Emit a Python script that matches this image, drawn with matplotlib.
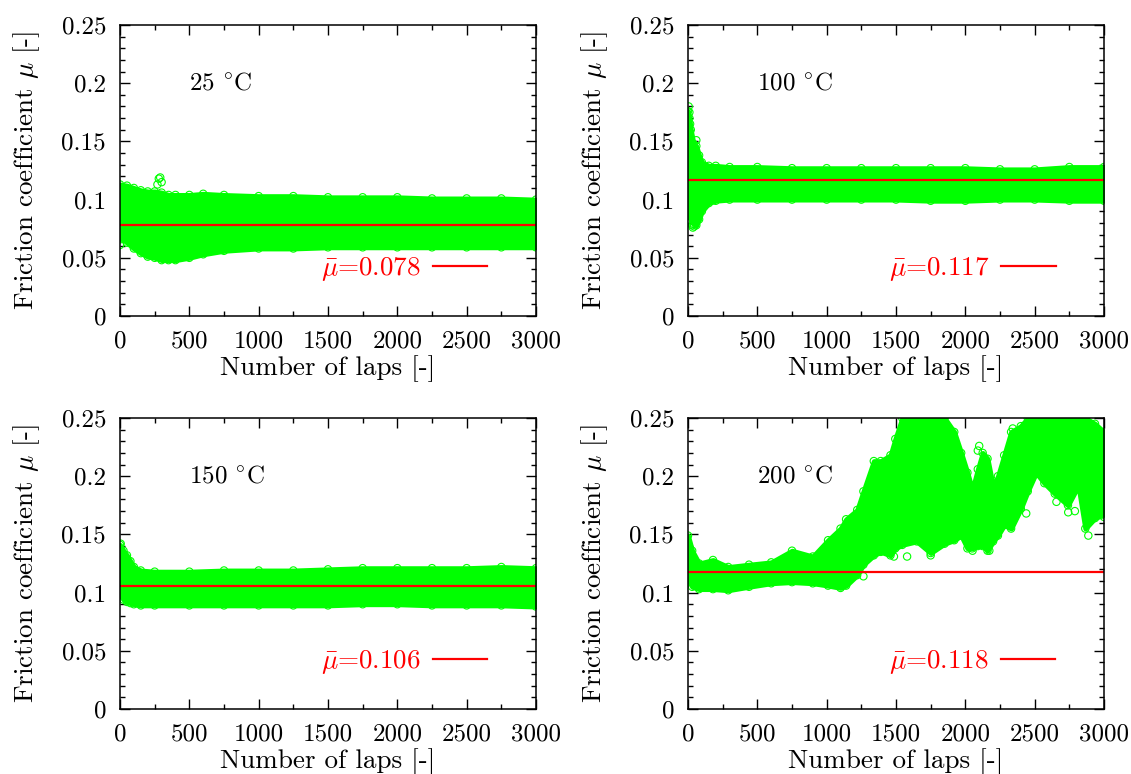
import matplotlib
matplotlib.use("Agg")
import matplotlib.pyplot as plt
from matplotlib.ticker import MultipleLocator, FuncFormatter

plt.rcParams.update({
    "font.family": "serif",
    "font.serif": ["cmr10"],
    "mathtext.fontset": "cm",
    "axes.formatter.use_mathtext": True,
    "font.size": 18,
    "axes.unicode_minus": False,
})

GREEN = "#00ff00"
RED = "#ff0000"

# ---------------- data ----------------
temps = ["25", "100", "150", "200"]
means = [0.078, 0.117, 0.106, 0.118]

laps_25 = [0, 50, 100, 150, 200, 250, 300, 350, 400, 500, 600, 750, 1000,
           1250, 1500, 1750, 2000, 2250, 2500, 2750, 3000]
upper_25 = [0.113, 0.112, 0.110, 0.108, 0.107, 0.107, 0.106, 0.104, 0.104, 0.104,
            0.105, 0.104, 0.103, 0.103, 0.102, 0.102, 0.102, 0.101, 0.101, 0.101, 0.100]
lower_25 = [0.068, 0.063, 0.058, 0.054, 0.051, 0.050, 0.048, 0.048, 0.048, 0.050,
            0.053, 0.056, 0.058, 0.058, 0.059, 0.059, 0.059, 0.059, 0.059, 0.059, 0.059]
out_laps_25 = [0, 5, 270, 280, 290, 300]
out_vals_25 = [0.061, 0.066, 0.113, 0.118, 0.119, 0.115]

laps_100 = [0, 10, 20, 40, 60, 80, 100, 150, 200, 300, 500, 750, 1000, 1250,
            1500, 1750, 2000, 2250, 2500, 2750, 3000]
upper_100 = [0.176, 0.170, 0.160, 0.148, 0.146, 0.138, 0.132, 0.129, 0.129, 0.128,
             0.128, 0.127, 0.127, 0.127, 0.127, 0.127, 0.127, 0.126, 0.126, 0.128, 0.128]
lower_100 = [0.090, 0.086, 0.082, 0.079, 0.078, 0.083, 0.090, 0.097, 0.099, 0.100,
             0.100, 0.100, 0.100, 0.100, 0.100, 0.099, 0.099, 0.100, 0.100, 0.099, 0.099]
out_laps_100 = [5, 10, 15, 30, 60, 2, 35, 45]
out_vals_100 = [0.180, 0.175, 0.165, 0.078, 0.151, 0.087, 0.076, 0.077]

laps_150 = [0, 25, 50, 75, 100, 150, 250, 500, 750, 1000, 1250, 1500, 1750,
            2000, 2250, 2500, 2750, 3000]
upper_150 = [0.141, 0.136, 0.132, 0.127, 0.122, 0.119, 0.118, 0.118, 0.119, 0.119,
             0.119, 0.120, 0.121, 0.121, 0.121, 0.121, 0.122, 0.121]
lower_150 = [0.098, 0.094, 0.092, 0.091, 0.090, 0.089, 0.089, 0.089, 0.089, 0.089,
             0.089, 0.089, 0.090, 0.090, 0.089, 0.089, 0.089, 0.088]
out_laps_150 = [5, 60]
out_vals_150 = [0.142, 0.093]

laps_200 = [0, 30, 80, 180, 290, 440, 600, 750, 900, 1010, 1100, 1140, 1220,
            1265, 1340, 1390, 1460, 1495, 1545, 1650, 1750, 1850, 1920, 1970,
            2015, 2050, 2090, 2125, 2160, 2200, 2235, 2280, 2330, 2400, 2450,
            2510, 2570, 2645, 2740, 2815, 2865, 2935, 3000]
upper_200 = [0.149, 0.136, 0.125, 0.128, 0.122, 0.124, 0.126, 0.136, 0.131, 0.145,
             0.155, 0.163, 0.171, 0.187, 0.213, 0.213, 0.218, 0.232, 0.250, 0.250,
             0.250, 0.250, 0.238, 0.220, 0.203, 0.188, 0.206, 0.220, 0.215, 0.191,
             0.200, 0.218, 0.238, 0.243, 0.250, 0.250, 0.250, 0.250, 0.250, 0.250,
             0.250, 0.245, 0.238]
lower_200 = [0.111, 0.105, 0.103, 0.103, 0.102, 0.105, 0.108, 0.109, 0.108, 0.106,
             0.104, 0.106, 0.115, 0.124, 0.132, 0.135, 0.132, 0.138, 0.141, 0.144,
             0.134, 0.142, 0.145, 0.149, 0.138, 0.138, 0.140, 0.140, 0.136, 0.144,
             0.149, 0.158, 0.155, 0.172, 0.187, 0.203, 0.194, 0.185, 0.175, 0.192,
             0.155, 0.164, 0.167]
out_laps_200 = [1265, 1485, 1580, 1750, 2052, 2090, 2100, 2173, 2342, 2439,
                2512, 2657, 2742, 2790, 2887, 3000]
out_vals_200 = [0.114, 0.131, 0.131, 0.132, 0.136, 0.222, 0.226, 0.136, 0.241,
                0.168, 0.202, 0.178, 0.169, 0.170, 0.149, 0.165]

panels = [
    (laps_25, upper_25, lower_25, out_laps_25, out_vals_25),
    (laps_100, upper_100, lower_100, out_laps_100, out_vals_100),
    (laps_150, upper_150, lower_150, out_laps_150, out_vals_150),
    (laps_200, upper_200, lower_200, out_laps_200, out_vals_200),
]

x_ticks = [0, 500, 1000, 1500, 2000, 2500, 3000]
y_ticks = [0, 0.05, 0.1, 0.15, 0.2, 0.25]

# ---------------- figure ----------------
fig = plt.figure(figsize=(11.31, 7.74), dpi=100)
W, H = 1131.0, 774.0
positions = [
    (120 / W, (H - 316) / H),
    (688 / W, (H - 316) / H),
    (120 / W, (H - 709) / H),
    (688 / W, (H - 709) / H),
]
aw, ah = 416 / W, 291 / H

fmt = FuncFormatter(lambda v, p: "%g" % v)
LABEL_FS = 19.5

for i, (pos, data) in enumerate(zip(positions, panels)):
    laps, up, lo, ox, oy = data
    ax = fig.add_axes([pos[0], pos[1], aw, ah])
    ax.fill_between(laps, lo, up, facecolor=GREEN, edgecolor=GREEN,
                    linewidth=3.5, zorder=2)
    ax.scatter(laps, up, s=28, facecolors="none", edgecolors=GREEN,
               linewidths=0.8, zorder=2)
    ax.scatter(laps, lo, s=28, facecolors="none", edgecolors=GREEN,
               linewidths=0.8, zorder=2)
    ax.scatter(ox, oy, s=28, facecolors="none", edgecolors=GREEN,
               linewidths=0.8, zorder=2)
    ax.plot([laps[0], laps[-1]], [means[i], means[i]], color=RED, lw=1.6,
            zorder=3, label=r"$\bar{\mu}$=%.3f" % means[i])

    ax.set_xlim(0, 3000)
    ax.set_ylim(0, 0.25)
    ax.set_xticks(x_ticks)
    ax.set_yticks(y_ticks)
    ax.xaxis.set_minor_locator(MultipleLocator(250))
    ax.yaxis.set_minor_locator(MultipleLocator(0.01))
    ax.xaxis.set_major_formatter(fmt)
    ax.yaxis.set_major_formatter(fmt)
    ax.tick_params(which="both", direction="in", top=True, right=True,
                   width=1.0)
    ax.tick_params(which="major", length=7, pad=10)
    ax.tick_params(which="minor", length=3.5)
    for sp in ax.spines.values():
        sp.set_linewidth(1.1)
        sp.set_zorder(5)

    ax.set_xlabel("Number of laps [-]", labelpad=2, fontsize=LABEL_FS)
    ax.set_ylabel(r"Friction coefficient $\mu$ [-]", labelpad=14,
                  fontsize=LABEL_FS)
    ax.text(500, 0.2, temps[i] + r" $^{\circ}$C", ha="left", va="center")

    ax.legend(loc="center", bbox_to_anchor=(0.683, 0.16),
              frameon=False, markerfirst=False, handlelength=2.0,
              handletextpad=0.45, labelcolor=RED, borderpad=0.0,
              fontsize=LABEL_FS)

fig.savefig("out.png", dpi=100)
